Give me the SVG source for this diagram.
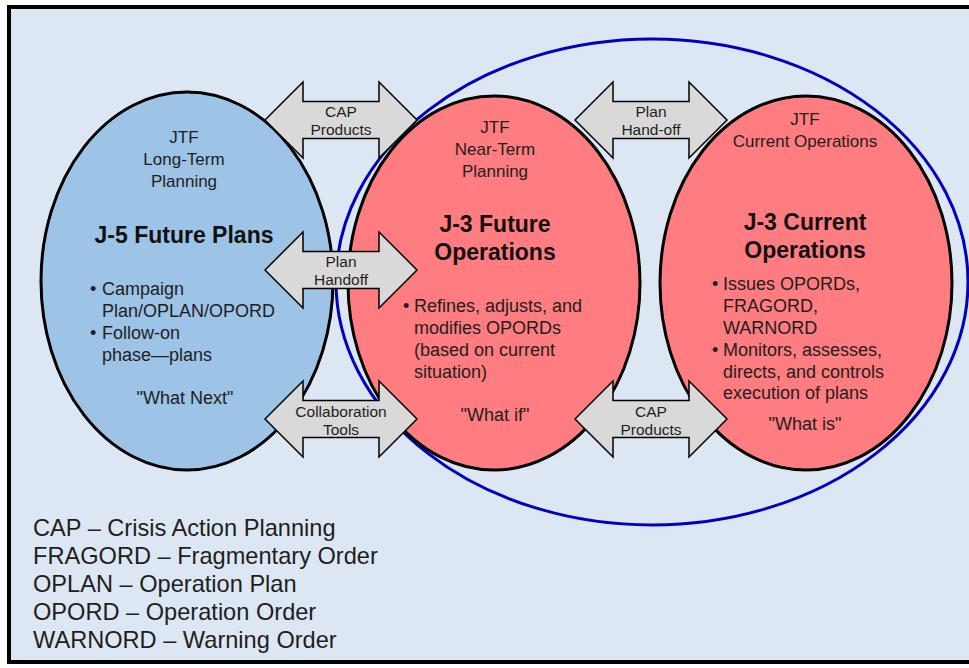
<svg xmlns="http://www.w3.org/2000/svg" width="969" height="668" viewBox="0 0 969 668">
<defs>
<style>
text{font-family:"Liberation Sans",Arial,sans-serif;fill:#1e1e1e;}
.lbl{font-size:17px;text-anchor:middle;}
.hd{font-size:23px;font-weight:bold;text-anchor:middle;fill:#111;}
.body{font-size:18px;}
.q{font-size:18px;text-anchor:middle;}
.al{font-size:15.5px;text-anchor:middle;}
.leg{font-size:23.6px;}
.blob{stroke:#000;stroke-width:3;}
.arrow{fill:#d9d9d9;stroke:#000;stroke-width:1.5;stroke-linejoin:miter;}
</style>
<path id="dbl" d="M-76,0 L-38,-38 L-38,-18.5 L38,-18.5 L38,-38 L76,0 L38,38 L38,18.5 L-38,18.5 L-38,38 Z"/>
</defs>
<rect x="0" y="0" width="969" height="668" fill="#ffffff"/>
<rect x="9" y="7" width="980" height="655" fill="#dde7f3" stroke="#000" stroke-width="4"/>

<g id="j3-scope">
<ellipse cx="652" cy="282" rx="316" ry="243" fill="none" stroke="#0000c0" stroke-width="3"/>
</g>

<g id="j5-future-plans">
<ellipse class="blob" cx="187" cy="281" rx="146" ry="189" fill="#9dc3e6"/>
<text class="lbl" x="184" y="143">JTF</text>
<text class="lbl" x="184" y="165">Long-Term</text>
<text class="lbl" x="184" y="187">Planning</text>
<text class="hd" x="184" y="243">J-5 Future Plans</text>
<text class="body" x="90" y="295">•</text>
<text class="body" x="102" y="295">Campaign</text>
<text class="body" x="102" y="317">Plan/OPLAN/OPORD</text>
<text class="body" x="90" y="339">•</text>
<text class="body" x="102" y="339">Follow-on</text>
<text class="body" x="102" y="361">phase—plans</text>
<text class="q" x="185" y="404">"What Next"</text>
</g>

<g id="j3-future-operations">
<ellipse class="blob" cx="494" cy="283" rx="146" ry="187" fill="#ff7c80"/>
<text class="lbl" x="495" y="133">JTF</text>
<text class="lbl" x="495" y="155">Near-Term</text>
<text class="lbl" x="495" y="177">Planning</text>
<text class="hd" x="495" y="232">J-3 Future</text>
<text class="hd" x="495" y="260">Operations</text>
<text class="body" x="403" y="312">•</text>
<text class="body" x="414" y="312">Refines, adjusts, and</text>
<text class="body" x="414" y="334">modifies OPORDs</text>
<text class="body" x="414" y="356">(based on current</text>
<text class="body" x="414" y="378">situation)</text>
<text class="q" x="495" y="421">"What if"</text>
</g>

<g id="j3-current-operations">
<ellipse class="blob" cx="806" cy="283" rx="146" ry="187" fill="#ff7c80"/>
<text class="lbl" x="805" y="125">JTF</text>
<text class="lbl" x="805" y="147">Current Operations</text>
<text class="hd" x="805" y="230">J-3 Current</text>
<text class="hd" x="805" y="258">Operations</text>
<text class="body" x="712" y="290">•</text>
<text class="body" x="723" y="290">Issues OPORDs,</text>
<text class="body" x="723" y="312">FRAGORD,</text>
<text class="body" x="723" y="334">WARNORD</text>
<text class="body" x="712" y="356">•</text>
<text class="body" x="723" y="356">Monitors, assesses,</text>
<text class="body" x="723" y="378">directs, and controls</text>
<text class="body" x="723" y="399">execution of plans</text>
<text class="q" x="805" y="430">"What is"</text>
</g>

<g id="connectors">
<use href="#dbl" class="arrow" x="341" y="120"/>
<use href="#dbl" class="arrow" x="651" y="120"/>
<use href="#dbl" class="arrow" x="341" y="270"/>
<use href="#dbl" class="arrow" x="341" y="419"/>
<use href="#dbl" class="arrow" x="651" y="419"/>
<text class="al" x="341" y="117">CAP</text>
<text class="al" x="341" y="135">Products</text>
<text class="al" x="651" y="117">Plan</text>
<text class="al" x="651" y="135">Hand-off</text>
<text class="al" x="341" y="267">Plan</text>
<text class="al" x="341" y="285">Handoff</text>
<text class="al" x="341" y="417">Collaboration</text>
<text class="al" x="341" y="435">Tools</text>
<text class="al" x="651" y="417">CAP</text>
<text class="al" x="651" y="435">Products</text>
</g>

<g id="legend">
<text class="leg" x="33" y="536">CAP – Crisis Action Planning</text>
<text class="leg" x="33" y="564">FRAGORD – Fragmentary Order</text>
<text class="leg" x="33" y="592">OPLAN – Operation Plan</text>
<text class="leg" x="33" y="620">OPORD – Operation Order</text>
<text class="leg" x="33" y="648">WARNORD – Warning Order</text>
</g>
</svg>
